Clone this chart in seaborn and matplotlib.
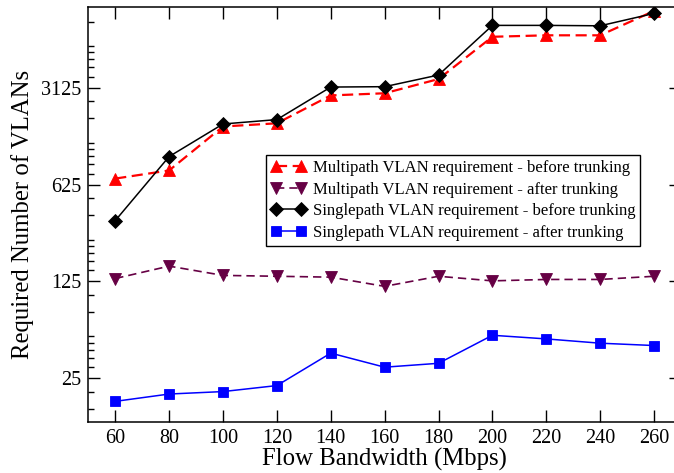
import numpy as np
import pandas as pd
import matplotlib
matplotlib.use("Agg")
import matplotlib.pyplot as plt
from matplotlib.ticker import LogLocator, FixedLocator, NullFormatter, FuncFormatter
import seaborn as sns

# Flow bandwidth (Mbps)
bandwidth = [60, 80, 100, 120, 140, 160, 180, 200, 220, 240, 260]

# Required number of VLANs per scheme
multi_before = [690, 790, 1640, 1730, 2750, 2850, 3610, 7290, 7470, 7470, 11200]
multi_after = [131, 161, 138, 136, 134, 115, 136, 126, 129, 129, 136]
single_before = [343, 995, 1710, 1840, 3160, 3180, 3860, 8810, 8810, 8750, 10750]
single_after = [17, 19.2, 20, 22.1, 37.9, 30, 32, 51, 48, 44.7, 43]

labels = [
    "Multipath VLAN requirement - before trunking",
    "Multipath VLAN requirement - after trunking",
    "Singlepath VLAN requirement - before trunking",
    "Singlepath VLAN requirement - after trunking",
]
y_ticks = [25, 125, 625, 3125]

sns.set_style("ticks")
plt.rcParams["font.family"] = ["Liberation Serif", "DejaVu Serif"]
plt.rcParams["mathtext.fontset"] = "stix"
plt.rcParams.update({
    "text.color": "black",
    "axes.labelcolor": "black",
    "xtick.color": "black",
    "ytick.color": "black",
    "axes.edgecolor": "black",
})

fig = plt.figure(figsize=(6.74, 4.73), dpi=100)
ax = fig.add_axes([88.3 / 674, 50.7 / 473, (681 - 88.3) / 674, (422.3 - 7.3) / 473])

series = [
    (multi_before, dict(color="#ff0000", marker="^", linestyle=(0, (5, 2.5)), linewidth=1.6, markersize=9)),
    (multi_after, dict(color="#660044", marker="v", linestyle=(0, (5, 3)), linewidth=1.2, markersize=9)),
    (single_before, dict(color="#000000", marker="D", linestyle="-", linewidth=1.1, markersize=7)),
    (single_after, dict(color="#0000ff", marker="s", linestyle="-", linewidth=1.1, markersize=7.5)),
]

for (vals, style), lab in zip(series, labels):
    df = pd.DataFrame({"bw": bandwidth, "vlans": vals})
    sns.lineplot(data=df, x="bw", y="vlans", ax=ax, label=lab,
                 markeredgewidth=0.6, markeredgecolor=style["color"], **style)

ax.set_yscale("log", base=5)
ax.set_ylim(12, 11900)
ax.set_xlim(50, 270)

ax.yaxis.set_major_locator(FixedLocator(y_ticks))
ax.yaxis.set_major_formatter(FuncFormatter(lambda v, p: f"{int(round(v))}"))
ax.yaxis.set_minor_locator(LogLocator(base=5, subs=[1.2, 1.4, 1.6, 1.8, 2, 3, 4], numticks=20))
ax.yaxis.set_minor_formatter(NullFormatter())
ax.set_xticks(bandwidth)

ax.tick_params(axis="both", which="major", direction="in", length=8.3, width=1.0,
               labelsize=14.5, top=True, right=True, pad=5, colors="black")
ax.tick_params(axis="y", which="minor", direction="in", length=4.3, width=1.0, right=False,
               colors="black")
ax.tick_params(axis="x", which="minor", bottom=False, top=False)
for sp in ax.spines.values():
    sp.set_linewidth(1.1)
    sp.set_color("black")

ax.set_xlabel("Flow Bandwidth (Mbps)", fontsize=17.8, labelpad=0, color="black")
ax.set_ylabel("Required Number of VLANs", fontsize=17.8, labelpad=5, color="black")

leg = ax.legend(loc="upper left", bbox_to_anchor=(0.300, 0.644), borderaxespad=0,
                fontsize=12, numpoints=2, handlelength=2.1, handletextpad=0.4,
                labelspacing=0.33, borderpad=0.3, frameon=True, fancybox=False,
                edgecolor="black", framealpha=1, labelcolor="black")
leg.get_frame().set_linewidth(1.0)

fig.savefig("out.png", dpi=100)
